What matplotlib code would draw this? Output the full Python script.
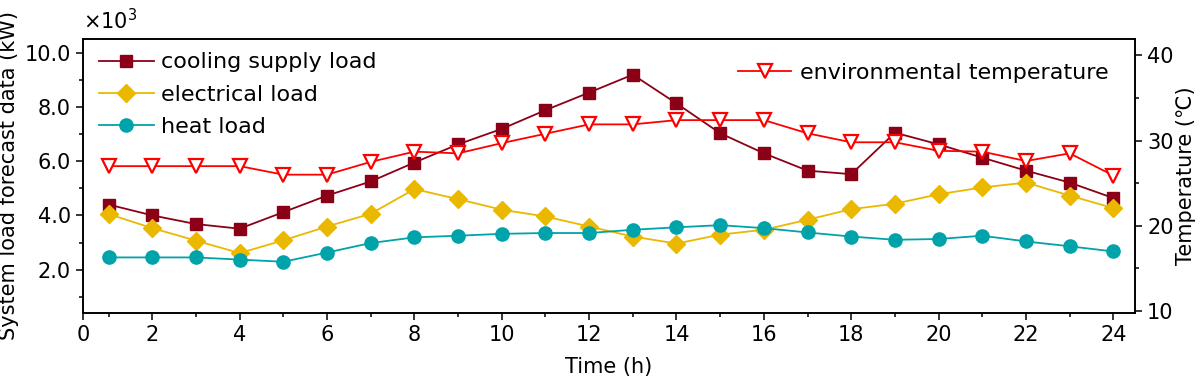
import matplotlib.pyplot as plt
from matplotlib.ticker import FixedLocator, FuncFormatter

plt.rcParams['font.family'] = ['DejaVu Sans']
plt.rcParams['font.size'] = 15

hours = list(range(1, 25))

# loads in units of 10^3 kW
cooling = [4.40, 4.00, 3.68, 3.51, 4.12, 4.73, 5.25, 5.95, 6.62, 7.19, 7.88, 8.53,
           9.19, 8.13, 7.03, 6.29, 5.65, 5.52, 7.05, 6.62, 6.13, 5.65, 5.21, 4.64]
electrical = [4.05, 3.53, 3.07, 2.61, 3.08, 3.59, 4.06, 4.97, 4.60, 4.21, 3.96, 3.59,
              3.22, 2.96, 3.29, 3.47, 3.84, 4.23, 4.43, 4.78, 5.03, 5.21, 4.73, 4.27]
heat = [2.45, 2.45, 2.45, 2.37, 2.29, 2.63, 2.98, 3.19, 3.25, 3.32, 3.35, 3.35,
        3.47, 3.56, 3.64, 3.53, 3.37, 3.22, 3.10, 3.13, 3.25, 3.04, 2.86, 2.67]
# temperature in degC
temperature = [27.0, 27.0, 27.0, 27.0, 26.0, 26.0, 27.5, 28.7, 28.5, 29.7, 30.8, 31.9,
               31.9, 32.4, 32.4, 32.4, 30.85, 29.8, 29.8, 28.8, 28.7, 27.6, 28.5, 25.9]

c_cool = '#8B0016'
c_elec = '#EBB800'
c_heat = '#00A3AA'
c_temp = '#FF0000'

fig = plt.figure(figsize=(12, 3.8), dpi=100)
ax = fig.add_axes([0.069, 0.177, 0.877, 0.72])
ax2 = ax.twinx()

l1, = ax.plot(hours, cooling, '-s', color=c_cool, lw=1.3, ms=9, label='cooling supply load')
l2, = ax.plot(hours, electrical, '-D', color=c_elec, lw=1.3, ms=9, label='electrical load')
l3, = ax.plot(hours, heat, '-o', color=c_heat, lw=1.3, ms=9.5, label='heat load')
l4, = ax2.plot(hours, temperature, '-v', color=c_temp, lw=1.3, ms=10, mfc='white',
               mec=c_temp, mew=1.6, label='environmental temperature')

# x axis starts a bit above 0, but the first label still reads 0
xmin, xmax = 0.41, 24.5
ax.set_xlim(xmin, xmax)
ax.xaxis.set_major_locator(FixedLocator([xmin] + list(range(2, 25, 2))))
ax.xaxis.set_major_formatter(FuncFormatter(lambda v, p: '0' if p == 0 else '%d' % round(v)))
ax.xaxis.set_minor_locator(FixedLocator(list(range(1, 24, 2))))

ax.set_ylim(0.41, 10.5)
ax.yaxis.set_major_locator(FixedLocator([2, 4, 6, 8, 10]))
ax.yaxis.set_major_formatter(FuncFormatter(lambda v, p: '%.1f' % v))
ax.yaxis.set_minor_locator(FixedLocator([1, 3, 5, 7, 9]))

ax2.set_ylim(9.8, 41.9)
ax2.yaxis.set_major_locator(FixedLocator([10, 20, 30, 40]))
ax2.yaxis.set_minor_locator(FixedLocator([15, 25, 35]))

for a in (ax, ax2):
    a.tick_params(which='major', direction='out', length=5, width=1.1, labelsize=15)
    a.tick_params(which='minor', direction='out', length=3, width=1.1)
    for s in a.spines.values():
        s.set_linewidth(1.2)

ax.set_xlabel('Time (h)', fontsize=15, labelpad=9)
ax.set_ylabel('System load forecast data (kW)', fontsize=15, labelpad=4)
ax2.set_ylabel('Temperature (℃)', fontsize=15, labelpad=2)
ax.text(0.0, 1.02, '×10$^3$', transform=ax.transAxes, ha='left', va='bottom', fontsize=15)

ax.legend(handles=[l1, l2, l3], loc='upper left', bbox_to_anchor=(-0.004, 1.025), frameon=False,
          handlelength=2.5, handletextpad=0.3, labelspacing=0.55, fontsize=16)
ax2.legend(handles=[l4], loc='upper right', bbox_to_anchor=(0.994, 0.985), frameon=False,
           handlelength=2.4, handletextpad=0.4, fontsize=16)

fig.savefig('out.png', dpi=100)
